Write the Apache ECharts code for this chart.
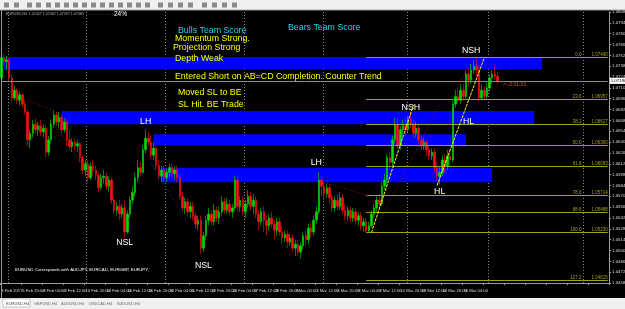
<!DOCTYPE html>
<html><head><meta charset="utf-8">
<script src="https://cdn.jsdelivr.net/npm/echarts@6/dist/echarts.min.js"></script>
<style>html,body{margin:0;padding:0;background:#000;overflow:hidden}#c{width:625px;height:309px}</style>
</head><body><div id="c"></div>
<script>
// ---- data ----
const tickLabels = ["3 Feb 2017","6 Feb 20:00","8 Feb 04:00","9 Feb 12:00","10 Feb 20:00","14 Feb 04:00","15 Feb 12:00","16 Feb 20:00","20 Feb 04:00","21 Feb 12:00","22 Feb 20:00","24 Feb 04:00","27 Feb 12:00","28 Feb 20:00","2 Mar 04:00","3 Mar 12:00","6 Mar 20:00","8 Mar 04:00","9 Mar 12:00","10 Mar 20:00","13 Mar 12:00","14 Mar 20:00","16 Mar 04:00","17 Mar 12:00"];
const totalSlots = 232;
// [open, close, low, high]
const ohlc = [
[1.0723,1.0749,1.0718,1.0756],[1.0749,1.0744,1.0738,1.0754],[1.0744,1.0746,1.0733,1.0751],[1.0746,1.0723,1.0718,1.0749],
[1.0723,1.0697,1.0692,1.0728],[1.0697,1.0707,1.0694,1.0713],[1.0707,1.0694,1.0689,1.0710],[1.0694,1.0701,1.0687,1.0705],
[1.0701,1.0689,1.0684,1.0703],[1.0689,1.0679,1.0675,1.0694],[1.0679,1.0643,1.0635,1.0681],[1.0643,1.0651,1.0632,1.0656],
[1.0651,1.0663,1.0646,1.0669],[1.0663,1.0656,1.0651,1.0671],[1.0656,1.0661,1.0648,1.0666],[1.0661,1.0653,1.0648,1.0669],
[1.0653,1.0658,1.0646,1.0663],[1.0658,1.0627,1.0621,1.0662],[1.0627,1.0643,1.0622,1.0648],[1.0643,1.0663,1.0638,1.0669],
[1.0663,1.0675,1.0658,1.0681],[1.0675,1.0666,1.0661,1.0679],[1.0666,1.0672,1.0658,1.0679],[1.0672,1.0656,1.0651,1.0676],
[1.0656,1.0666,1.0652,1.0671],[1.0666,1.0643,1.0635,1.0670],[1.0643,1.0634,1.0630,1.0656],[1.0634,1.0640,1.0627,1.0645],
[1.0640,1.0635,1.0630,1.0645],[1.0635,1.0638,1.0627,1.0643],[1.0638,1.0620,1.0614,1.0640],[1.0620,1.0604,1.0599,1.0623],
[1.0604,1.0612,1.0596,1.0617],[1.0612,1.0594,1.0588,1.0617],[1.0594,1.0609,1.0591,1.0614],[1.0609,1.0604,1.0596,1.0617],
[1.0604,1.0597,1.0591,1.0610],[1.0597,1.0581,1.0576,1.0601],[1.0581,1.0594,1.0578,1.0599],[1.0594,1.0596,1.0586,1.0604],
[1.0596,1.0583,1.0578,1.0601],[1.0583,1.0591,1.0576,1.0596],[1.0591,1.0565,1.0560,1.0594],[1.0565,1.0552,1.0547,1.0570],
[1.0552,1.0557,1.0545,1.0563],[1.0557,1.0547,1.0539,1.0565],[1.0547,1.0555,1.0542,1.0560],[1.0555,1.0524,1.0516,1.0565],
[1.0524,1.0547,1.0521,1.0552],[1.0547,1.0565,1.0542,1.0570],[1.0565,1.0575,1.0560,1.0583],[1.0575,1.0594,1.0570,1.0601],
[1.0594,1.0607,1.0588,1.0617],[1.0607,1.0601,1.0596,1.0614],[1.0601,1.0630,1.0599,1.0636],[1.0630,1.0645,1.0625,1.0656],
[1.0645,1.0640,1.0635,1.0653],[1.0640,1.0623,1.0619,1.0648],[1.0623,1.0632,1.0617,1.0640],[1.0632,1.0610,1.0604,1.0636],
[1.0610,1.0596,1.0591,1.0617],[1.0596,1.0604,1.0588,1.0609],[1.0604,1.0594,1.0588,1.0609],[1.0594,1.0601,1.0588,1.0606],
[1.0601,1.0607,1.0594,1.0612],[1.0607,1.0599,1.0594,1.0612],[1.0599,1.0604,1.0591,1.0609],[1.0604,1.0594,1.0588,1.0609],
[1.0594,1.0570,1.0565,1.0599],[1.0570,1.0555,1.0550,1.0575],[1.0555,1.0563,1.0547,1.0568],[1.0563,1.0550,1.0545,1.0568],
[1.0550,1.0557,1.0542,1.0563],[1.0557,1.0545,1.0539,1.0563],[1.0545,1.0534,1.0529,1.0550],[1.0534,1.0539,1.0526,1.0545],
[1.0539,1.0503,1.0495,1.0545],[1.0503,1.0519,1.0498,1.0524],[1.0519,1.0539,1.0514,1.0545],[1.0539,1.0547,1.0532,1.0555],
[1.0547,1.0537,1.0532,1.0552],[1.0537,1.0552,1.0532,1.0560],[1.0552,1.0542,1.0537,1.0557],[1.0542,1.0550,1.0534,1.0557],
[1.0550,1.0563,1.0545,1.0570],[1.0563,1.0552,1.0547,1.0568],[1.0552,1.0560,1.0547,1.0568],[1.0560,1.0550,1.0545,1.0565],
[1.0550,1.0555,1.0542,1.0560],[1.0555,1.0591,1.0552,1.0597],[1.0591,1.0557,1.0550,1.0596],[1.0557,1.0565,1.0550,1.0570],
[1.0565,1.0550,1.0545,1.0570],[1.0550,1.0560,1.0542,1.0565],[1.0560,1.0570,1.0555,1.0578],[1.0570,1.0557,1.0552,1.0575],
[1.0557,1.0565,1.0547,1.0573],[1.0565,1.0547,1.0542,1.0570],[1.0547,1.0537,1.0526,1.0552],[1.0537,1.0550,1.0532,1.0555],
[1.0550,1.0539,1.0524,1.0557],[1.0539,1.0532,1.0519,1.0545],[1.0532,1.0542,1.0526,1.0547],[1.0542,1.0534,1.0529,1.0550],
[1.0534,1.0526,1.0514,1.0539],[1.0526,1.0537,1.0519,1.0542],[1.0537,1.0524,1.0519,1.0542],[1.0524,1.0516,1.0508,1.0532],
[1.0516,1.0521,1.0511,1.0526],[1.0521,1.0511,1.0503,1.0526],[1.0511,1.0516,1.0506,1.0521],[1.0516,1.0503,1.0498,1.0521],
[1.0503,1.0508,1.0493,1.0514],[1.0508,1.0498,1.0493,1.0514],[1.0498,1.0506,1.0490,1.0511],[1.0506,1.0519,1.0501,1.0524],
[1.0519,1.0514,1.0506,1.0526],[1.0514,1.0529,1.0508,1.0534],[1.0529,1.0524,1.0516,1.0537],[1.0524,1.0539,1.0519,1.0545],
[1.0539,1.0550,1.0534,1.0557],[1.0550,1.0591,1.0547,1.0601],[1.0591,1.0583,1.0570,1.0596],[1.0583,1.0573,1.0565,1.0588],
[1.0573,1.0581,1.0568,1.0586],[1.0581,1.0568,1.0560,1.0586],[1.0568,1.0555,1.0550,1.0573],[1.0555,1.0565,1.0550,1.0570],
[1.0565,1.0557,1.0552,1.0573],[1.0557,1.0568,1.0552,1.0575],[1.0568,1.0552,1.0547,1.0573],[1.0552,1.0545,1.0539,1.0560],
[1.0545,1.0552,1.0539,1.0557],[1.0552,1.0542,1.0537,1.0557],[1.0542,1.0550,1.0537,1.0555],[1.0550,1.0539,1.0534,1.0555],
[1.0539,1.0545,1.0532,1.0550],[1.0545,1.0532,1.0526,1.0550],[1.0532,1.0537,1.0524,1.0542],[1.0537,1.0525,1.0523,1.0542],
[1.0525,1.0532,1.0523,1.0537],[1.0532,1.0547,1.0529,1.0552],[1.0547,1.0555,1.0542,1.0560],[1.0555,1.0565,1.0550,1.0570],
[1.0565,1.0560,1.0555,1.0573],[1.0560,1.0583,1.0557,1.0588],[1.0583,1.0591,1.0578,1.0599],[1.0591,1.0620,1.0585,1.0625],
[1.0620,1.0614,1.0607,1.0627],[1.0614,1.0643,1.0609,1.0648],[1.0643,1.0663,1.0638,1.0671],[1.0663,1.0636,1.0632,1.0671],
[1.0636,1.0656,1.0630,1.0661],[1.0656,1.0661,1.0648,1.0669],[1.0661,1.0656,1.0648,1.0671],[1.0656,1.0669,1.0651,1.0674],
[1.0669,1.0663,1.0658,1.0678],[1.0663,1.0651,1.0646,1.0669],[1.0651,1.0658,1.0646,1.0666],[1.0658,1.0643,1.0638,1.0663],
[1.0643,1.0635,1.0630,1.0648],[1.0635,1.0640,1.0630,1.0645],[1.0640,1.0630,1.0622,1.0643],[1.0630,1.0622,1.0617,1.0635],
[1.0622,1.0627,1.0617,1.0632],[1.0627,1.0607,1.0601,1.0632],[1.0607,1.0596,1.0591,1.0614],[1.0596,1.0601,1.0585,1.0609],
[1.0601,1.0617,1.0596,1.0623],[1.0617,1.0609,1.0601,1.0625],[1.0609,1.0622,1.0604,1.0630],[1.0622,1.0617,1.0609,1.0630],
[1.0617,1.0689,1.0614,1.0694],[1.0689,1.0699,1.0684,1.0707],[1.0699,1.0694,1.0689,1.0710],[1.0694,1.0707,1.0689,1.0715],
[1.0707,1.0699,1.0694,1.0715],[1.0699,1.0728,1.0696,1.0733],[1.0728,1.0720,1.0712,1.0736],[1.0720,1.0733,1.0715,1.0741],
[1.0733,1.0738,1.0728,1.0746],[1.0738,1.0733,1.0725,1.0749],[1.0733,1.0697,1.0692,1.0738],[1.0697,1.0707,1.0694,1.0715],
[1.0707,1.0699,1.0694,1.0712],[1.0699,1.0710,1.0696,1.0717],[1.0710,1.0723,1.0705,1.0728],[1.0723,1.0728,1.0715,1.0733],
[1.0728,1.0725,1.0720,1.0738],[1.0725,1.0719,1.0715,1.0731]
];
// supply/demand zones: [fromIdx, toIdx, topPrice, bottomPrice]
const zones = [[1,206,1.0750,1.0734],[23,203,1.0680,1.0663],[58,177,1.0650,1.0636],[61,187,1.0607,1.0588]];
const fibHigh = 1.0749, fibLow = 1.0523, fibStartIdx = 139;
const fibRatios = [0, 23.6, 38.2, 50.0, 61.8, 78.6, 88.6, 100.0, 127.2];
const trendLines = [[[141,1.0523],[157,1.0688]],[[166,1.0584],[184,1.0749]]];
const zigzagRed = [[[10,1.0694],[20,1.0681]],[[18,1.0672],[31,1.0610]],[[124,1.0587],[141,1.0569]],[[144,1.0537],[167,1.0689]],[[173,1.0707],[179,1.0743]]];
const zigzagBlue = [[[57,1.0613],[71,1.0535]]];
const swingLabels = [["NSH",156,1.0685],["NSH",179,1.0758],["HL",178,1.0667],["HL",167,1.0576],["LH",55,1.0667],["LH",120,1.0614],["NSL",47,1.0510],["NSL",77,1.0480]];
const separators = [3,33,63,93,123,155,186,222];
const yMin = 1.0458, yMax = 1.0808, yStep = 0.0014;

// ---- chart ----
const cats = [];
for (let i = 0; i < totalSlots; i++) cats.push(String(i));
const lastClose = ohlc[ohlc.length - 1][1];
const FONT = '"Liberation Sans", Arial, sans-serif';
const olive = '#a0a020';

const fibLines = fibRatios.map(r => {
  const p = fibHigh - (fibHigh - fibLow) * r / 100;
  return [{coord:[fibStartIdx, p], lineStyle:{color:olive,width:1,type:'solid'},
           label:{show:true, position:'insideEndTop', distance:0, formatter: r.toFixed(1) + '        ' + p.toFixed(5), color:olive, fontSize:4.5, fontFamily:FONT}},
          {coord:[totalSlots-1, p]}];
});
const tl = trendLines.map(s => [{coord:s[0], lineStyle:{color:'#ffff00',width:1,type:[3,1]}},{coord:s[1]}]);
const zr = zigzagRed.map(s => [{coord:s[0], lineStyle:{color:'#9a1010',width:1,type:[1,2]}},{coord:s[1]}]);
const zb = zigzagBlue.map(s => [{coord:s[0], lineStyle:{color:'#2828b0',width:1,type:[1,2]}},{coord:s[1]}]);

const chart = echarts.init(document.getElementById('c'), null, {renderer:'canvas'});
const txt = (t, x, y, fill, size, extra) => Object.assign({type:'text', x, y, z:50, silent:true,
  style:{text:t, fill, font:`${size}px ${FONT}`, verticalAlign:'middle'}}, extra || {});

const graphics = [
  {type:'rect', shape:{x:0,y:0,width:625,height:10}, style:{fill:'#f0f0f0'}, z:40},
  {type:'line', shape:{x1:0,y1:10,x2:625,y2:10}, style:{stroke:'#a0a0a0',lineWidth:1}, z:41},
  {type:'line', shape:{x1:1.5,y1:10,x2:1.5,y2:298}, style:{stroke:'#9a9a9a',lineWidth:1}, z:41},
  {type:'rect', shape:{x:0,y:298,width:625,height:11}, style:{fill:'#f0f0f0'}, z:40},
  {type:'rect', shape:{x:3,y:299,width:27,height:8}, style:{fill:'#ffffff',stroke:'#909090',lineWidth:0.5}, z:41},
  txt('EURUSD,H4', 6, 303.5, '#444', 4),
  txt('GBPUSD,H4', 34, 303.5, '#666', 4),
  txt('AUDUSD,H4', 61, 303.5, '#666', 4),
  txt('USDCAD,H4', 89, 303.5, '#666', 4),
  txt('NZDUSD,H4', 117, 303.5, '#666', 4),
  txt('EURUSD,H4  1.07427 1.07462 1.07357 1.07380', 6, 13.5, '#b0b0b0', 3.6),
  txt('. : . : . : . : . : .', 87, 14, '#a0a0a0', 4),
  txt('24%', 114, 14.5, '#ffffff', 6.5),
  txt('Bulls Team Score', 178, 31, '#22d6ee', 8.8),
  txt('Bears Team Score', 288, 28, '#22d6ee', 8.8),
  txt('Momentum Strong.', 175, 38.5, '#ffff00', 8.8),
  txt('Projection Strong', 173, 47.5, '#ffff00', 8.8),
  txt('Depth Weak', 175, 58.5, '#ffff00', 8.8),
  txt('Entered Short on AB=CD Completion. Counter Trend', 175, 77, '#ffff00', 8.8),
  txt('Moved SL to BE', 178, 93, '#ffff00', 8.8),
  txt('SL Hit. BE Trade', 178, 104.5, '#ffff00', 8.8),
  txt('EURUSD Corresponds with AUDJPY, EURCAD, EURGBP, EURJPY,', 15, 269.5, '#ffffff', 4.4),
  txt('<--3:01:33', 503, 84.5, '#c0602a', 5)
];
// toolbar icons
const iconX = [4,14,27,36,46,55,64,73,82,91,100,109,118,127,136,145,158,168,178,188,202,212,222,232];
iconX.forEach(x => graphics.push({type:'rect', shape:{x:x,y:2.5,width:5,height:5}, style:{fill:'#8a8a8a'}, z:42}));

chart.setOption({
  animation:false,
  backgroundColor:'#000000',
  grid:{left:0, right:16, top:12, bottom:26, containLabel:false, outerBoundsMode:'none'},
  xAxis:{type:'category', data:cats, boundaryGap:true,
    axisLine:{show:true, lineStyle:{color:'#9a9a9a'}},
    axisTick:{show:true, length:2, interval:(i)=> i % 8 === 0, lineStyle:{color:'#9a9a9a'}},
    axisLabel:{show:true, showMinLabel:true, hideOverlap:false, interval:(i)=> i % 8 === 0 && i/8 < tickLabels.length, formatter:(v,i)=> tickLabels[i/8] || '',
      color:'#d8d8d8', fontSize:4.2, fontFamily:FONT, align:'left', margin:6},
    splitLine:{show:true, interval:(i)=> separators.indexOf(i) >= 0, lineStyle:{color:'#8a8a8a', type:[1,2], width:1}}
  },
  yAxis:{type:'value', position:'right', min:yMin, max:yMax, interval:yStep, scale:true,
    axisLine:{show:true, lineStyle:{color:'#9a9a9a'}},
    axisTick:{show:true, length:2, lineStyle:{color:'#9a9a9a'}},
    axisLabel:{color:'#d8d8d8', fontSize:4.4, fontFamily:FONT, margin:3, formatter:(v)=> v.toFixed(5)},
    splitLine:{show:false}
  },
  graphic:graphics,
  series:[
    {type:'line', data:[], z:1, silent:true,
      markArea:{silent:true, itemStyle:{color:'#0000ff'},
        data: zones.map(z => [{coord:[z[0], z[2]]},{coord:[z[1], z[3]]}])}},
    {type:'line', data:[], z:2, silent:true,
      markLine:{silent:true, symbol:['none','none'], animation:false,
        data: fibLines.concat([[{coord:[0,lastClose], lineStyle:{color:'#8c8c8c',width:1,type:'solid'},
              label:{show:true, position:'end', distance:2, formatter:lastClose.toFixed(5), backgroundColor:'#ffffff', color:'#000', fontSize:4.4, padding:[1,1]}},
              {coord:[totalSlots-1,lastClose]}]])}},
    {type:'candlestick', data:ohlc, z:3, barWidth:2,
      itemStyle:{color:'#00dd00', color0:'#ff1010', borderColor:'#00dd00', borderColor0:'#ff1010', borderWidth:0.6}},
    {type:'line', data:[], z:4, silent:true,
      markLine:{silent:true, symbol:['none','none'], label:{show:false}, data: tl.concat(zr, zb)},
      markPoint:{silent:true, symbol:'rect', symbolSize:1, itemStyle:{color:'rgba(0,0,0,0)'},
        data: swingLabels.map(s => ({coord:[s[1], s[2]], label:{show:true, position:'inside', formatter:s[0], color:'#ffffff', fontSize:8.8, fontFamily:FONT}}))}}
  ]
});
</script></body></html>
